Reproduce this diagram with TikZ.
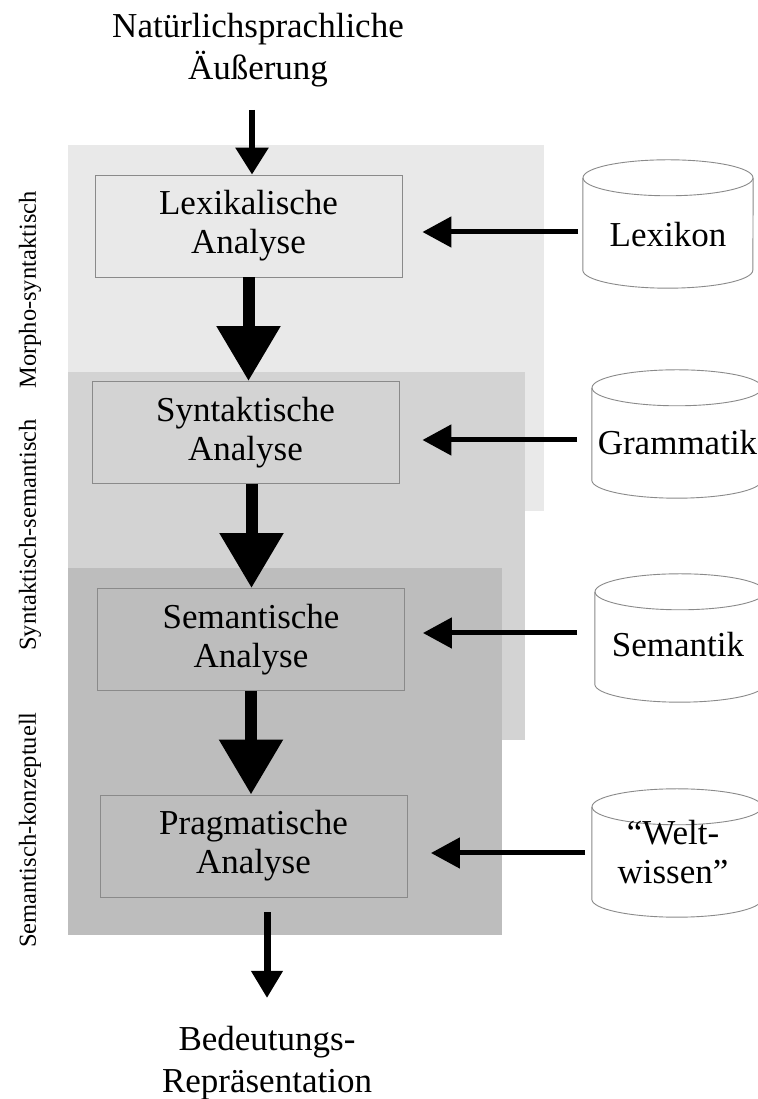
\documentclass[tikz,border=0pt]{standalone}
\usepackage{fontspec}
\setmainfont{Liberation Serif}
\usetikzlibrary{arrows.meta}

\definecolor{bandA}{HTML}{E9E9E9}
\definecolor{bandB}{HTML}{D3D3D3}
\definecolor{bandC}{HTML}{BDBDBD}
\definecolor{frame}{HTML}{8A8A8A}

\tikzset{
  band/.style={fill=#1, draw=none},
  stage/.style={draw=frame, line width=0.9pt, minimum width=307pt, minimum height=102pt,
    inner sep=0pt, align=center, font=\fontsize{35}{39}\selectfont},
  bigtext/.style={align=center, font=\fontsize{35}{42}\selectfont, inner sep=0pt},
  levellabel/.style={rotate=90, font=\fontsize{24.5}{28}\selectfont, inner sep=0pt},
  drumbody/.style={minimum width=170pt, minimum height=128pt, inner sep=0pt, draw=none},
  drumline/.style={draw=frame, line width=0.9pt},
  drumtext/.style={align=center, font=\fontsize{35}{39}\selectfont, inner sep=0pt},
  flow/.style={line width=12pt, -{Triangle[length=55pt,width=61pt]}},
  feed/.style={line width=5pt, -{Triangle[length=29pt,width=30pt]}},
  entry/.style={line width=6pt, -{Triangle[length=27pt,width=32pt]}},
  exit/.style={line width=7pt, -{Triangle[length=27pt,width=30pt]}},
}

% cylinder outline around a body node
\newcommand\drawdrum[1]{%
  \draw[drumline] ([yshift=-18pt]#1.north west) -- ([yshift=18pt]#1.south west)
    arc[start angle=180, end angle=360, x radius=85pt, y radius=18pt]
    -- ([yshift=-18pt]#1.north east);
  \draw[drumline] ([yshift=-18pt]#1.north) ellipse[x radius=85pt, y radius=18pt];
}

\begin{document}
\begin{tikzpicture}[x=1pt, y=1pt]
  \useasboundingbox (0,0) rectangle (757,1099);
  \fill[white] (0,0) rectangle (757,1099);

  % processing levels
  \path[band=bandA] (68,954) rectangle (544,588);
  \path[band=bandB] (68,727) rectangle (525,359);
  \path[band=bandC] (68,531) rectangle (502,164);

  \node[levellabel] (morpho) at (30,809) {Morpho-syntaktisch};
  \node[levellabel] (synsem) at (30,564) {Syntaktisch-semantisch};
  \node[levellabel] (semkon) at (30,269) {Semantisch-konzeptuell};

  % input and output
  \node[bigtext] (input) at (258,1049) {Natürlichsprachliche\\Äußerung};
  \node[bigtext] (output) at (267,36) {Bedeutungs-\\Repräsentation};

  % analysis stages
  \node[stage] (lexbox)  at (248.5,873) {Lexikalische\\Analyse};
  \node[stage] (synbox)  at (245.5,666.5) {Syntaktische\\Analyse};
  \node[stage] (sembox)  at (251,459.5) {Semantische\\Analyse};
  \node[stage] (pragbox) at (253.5,253) {Pragmatische\\Analyse};

  % knowledge sources
  \node[drumbody] (lexikon) at (668,875) {};
  \node[drumbody] (grammatik) at (677,665) {};
  \node[drumbody] (semantik) at (680,461) {};
  \node[drumbody] (weltwissen) at (677,246) {};
  \drawdrum{lexikon}
  \drawdrum{grammatik}
  \drawdrum{semantik}
  \drawdrum{weltwissen}
  \node[drumtext] (lexikontext) at (668,864) {Lexikon};
  \node[drumtext] (grammatiktext) at (677.5,656) {Grammatik};
  \node[drumtext] (semantiktext) at (678,454) {Semantik};
  \node[drumtext] (weltwissentext) at (673,247) {“Welt-\\wissen”};

  % main flow
  \coordinate (intail) at (252,989);
  \coordinate (outtip) at (267,101);
  \draw[entry] (intail) -- (intail |- lexbox.north);
  \draw[flow] (lexbox.south) -- (lexbox.south |- synbox.north);
  \draw[flow] ([xshift=6pt]synbox.south) -- ([xshift=6pt]synbox.south |- sembox.north);
  \draw[flow] (sembox.south) -- (sembox.south |- pragbox.north);
  \draw[exit, shorten <=15pt] (pragbox.south -| outtip) -- (outtip);

  % knowledge feeds
  \coordinate (lexfeed) at (578,867);
  \coordinate (gramfeed) at (577,659);
  \coordinate (semfeed) at (577,466);
  \coordinate (weltfeed) at (585,246);
  \draw[feed, shorten >=20pt] (lexfeed) -- (lexfeed -| lexbox.east);
  \draw[feed, shorten >=23pt] (gramfeed) -- (gramfeed -| synbox.east);
  \draw[feed, shorten >=18pt] (semfeed) -- (semfeed -| sembox.east);
  \draw[feed, shorten >=23.5pt] (weltfeed) -- (weltfeed -| pragbox.east);
\end{tikzpicture}
\end{document}
